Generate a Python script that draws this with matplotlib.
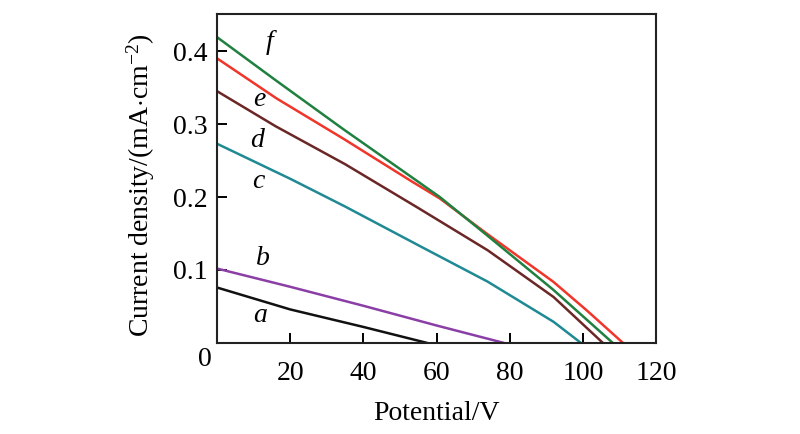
import numpy as np
import matplotlib
matplotlib.use("Agg")
import matplotlib.pyplot as plt

plt.rcParams['font.family'] = ['Liberation Serif', 'DejaVu Serif']
plt.rcParams['mathtext.fontset'] = 'custom'
plt.rcParams['mathtext.rm'] = 'Liberation Serif'
plt.rcParams['mathtext.it'] = 'Liberation Serif:italic'

# curves: potential (V) vs current density (mA/cm2)
a_v = [0, 20, 40, 57.5]
a_j = [0.076, 0.046, 0.022, 0.0]
b_v = [0, 20, 40, 60, 78.5]
b_j = [0.102, 0.077, 0.051, 0.024, 0.0]
c_v = [0, 10, 20, 35, 55, 74, 92, 99.5]
c_j = [0.273, 0.249, 0.225, 0.187, 0.134, 0.084, 0.029, 0.0]
d_v = [0, 16, 35, 55, 74, 92, 105.5]
d_j = [0.345, 0.297, 0.245, 0.185, 0.127, 0.063, 0.0]
e_v = [0, 16.3, 34.5, 52.7, 60.9, 73.7, 91.9, 101, 111]
e_j = [0.390, 0.335, 0.280, 0.223, 0.198, 0.150, 0.084, 0.045, 0.0]
f_v = [0, 16.3, 34.5, 52.7, 60.9, 73.7, 91.9, 108.2]
f_j = [0.419, 0.359, 0.293, 0.229, 0.200, 0.148, 0.073, 0.0]

names = ['a', 'b', 'c', 'd', 'e', 'f']
colors = ['#111111', '#8a3ea6', '#1f8a93', '#6b2626', '#f0352a', '#1f8040']
label_pos = [(11.75, 0.038), (12.6, 0.116), (11.2, 0.221), (10.9, 0.278), (11.7, 0.333), (14.5, 0.411)]
xticks = [20, 40, 60, 80, 100, 120]
yticks = [0.1, 0.2, 0.3, 0.4]

fig = plt.figure(figsize=(8, 4.34), dpi=100)
ax = fig.add_axes([0.27125, 0.2097, 0.54875, 0.758])

series = [(a_v, a_j), (b_v, b_j), (c_v, c_j), (d_v, d_j), (e_v, e_j), (f_v, f_j)]
for (v, j), col in zip(series, colors):
    ax.plot(v, j, color=col, lw=1.8, solid_capstyle='butt')

for n, (x, y) in zip(names, label_pos):
    ax.text(x, y, n, fontsize=20, style='italic', ha='center', va='center')

ax.set_xlim(0, 120)
ax.set_ylim(0, 0.4507)
ax.set_xticks(xticks)
ax.set_xticklabels([str(t) for t in xticks])
ax.set_yticks(yticks)
ax.set_yticklabels(['0.1', '0.2', '0.3', '0.4'])
ax.tick_params(axis='x', direction='in', length=7.5, width=1.4, labelsize=20, pad=13)
ax.tick_params(axis='y', direction='in', length=7.5, width=1.4, labelsize=20, pad=7)
# no tick mark at the right edge
ax.xaxis.get_major_ticks()[-1].tick1line.set_visible(False)
for s in ax.spines.values():
    s.set_linewidth(1.5)
    s.set_color('#222222')

ax.annotate('0', xy=(0, 0), xytext=(-12, -17), textcoords='offset pixels',
            fontsize=20, ha='center', va='center')

ax.set_xlabel('Potential/V', fontsize=20, labelpad=11)
ax.set_ylabel('Current density/(mA$\\cdot$cm$^{-2}$)', fontsize=20, labelpad=11)
ax.yaxis.label.set_y(0.48)

fig.savefig('out.png', dpi=100)
